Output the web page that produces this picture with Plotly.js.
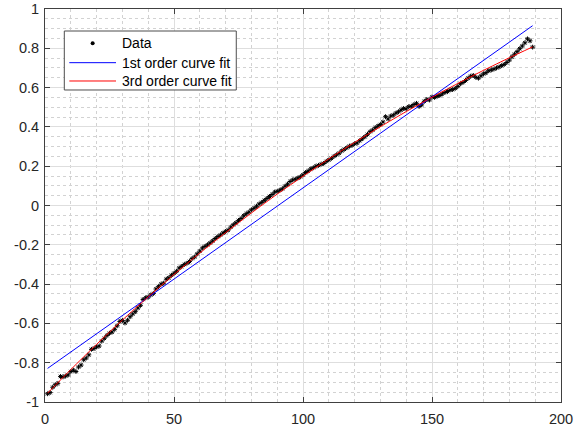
<!DOCTYPE html>
<html>
<head>
<meta charset="utf-8">
<script src="https://cdn.plot.ly/plotly-3.0.1.min.js"></script>
<style>html,body{margin:0;padding:0;background:#fff;}#chart{width:586px;height:429px;}</style>
</head>
<body>
<div id="chart"></div>
<script>
// Measured data (sample index 1..189)
const dataY = [
-0.958,-0.952,-0.925,-0.912,-0.905,-0.870,-0.872,-0.868,-0.862,-0.845,
-0.838,-0.845,-0.822,-0.812,-0.785,-0.776,-0.760,-0.732,-0.728,-0.720,
-0.715,-0.690,-0.676,-0.662,-0.650,-0.644,-0.630,-0.612,-0.590,-0.585,
-0.598,-0.584,-0.566,-0.552,-0.540,-0.522,-0.508,-0.478,-0.470,-0.466,
-0.455,-0.448,-0.425,-0.413,-0.400,-0.395,-0.375,-0.368,-0.355,-0.345,
-0.335,-0.318,-0.310,-0.300,-0.294,-0.285,-0.270,-0.262,-0.246,-0.232,
-0.216,-0.208,-0.200,-0.190,-0.180,-0.168,-0.158,-0.150,-0.140,-0.132,
-0.125,-0.110,-0.098,-0.088,-0.076,-0.066,-0.052,-0.042,-0.034,-0.022,
-0.014,-0.004,0.008,0.016,0.026,0.036,0.046,0.056,0.068,0.072,
0.078,0.085,0.098,0.108,0.122,0.130,0.134,0.140,0.146,0.156,
0.168,0.176,0.186,0.192,0.200,0.204,0.210,0.214,0.224,0.232,
0.240,0.250,0.258,0.266,0.278,0.286,0.294,0.302,0.306,0.314,
0.318,0.330,0.340,0.350,0.362,0.376,0.384,0.396,0.404,0.412,
0.425,0.452,0.440,0.455,0.460,0.470,0.477,0.486,0.494,0.492,
0.503,0.505,0.514,0.520,0.504,0.512,0.530,0.540,0.537,0.552,
0.550,0.556,0.560,0.568,0.575,0.580,0.588,0.590,0.596,0.606,
0.620,0.626,0.636,0.648,0.658,0.662,0.652,0.648,0.660,0.670,
0.676,0.686,0.690,0.694,0.700,0.705,0.712,0.718,0.728,0.740,
0.757,0.770,0.783,0.798,0.812,0.828,0.848,0.838,0.806
];
const dataX = dataY.map((_, i) => i + 1);

// 1st order fit (end points)
const linX = [1, 189];
const linY = [-0.829, 0.915];

// 3rd order fit
const cubX = [1, 10, 20, 30, 40, 50, 60, 70, 80, 90, 100, 110, 120, 130, 140, 150, 160, 170, 180, 189];
const cubY = [-0.955, -0.835, -0.7065, -0.583, -0.465, -0.351, -0.242, -0.138, -0.038, 0.058,
              0.149, 0.237, 0.321, 0.401, 0.478, 0.551, 0.621, 0.688, 0.752, 0.807];

const xTicks = [0, 50, 100, 150, 200];
const xTickText = ['0', '50', '100', '150', '200'];
const yTicks = [-1, -0.8, -0.6, -0.4, -0.2, 0, 0.2, 0.4, 0.6, 0.8, 1];
const yTickText = ['-1', '-0.8', '-0.6', '-0.4', '-0.2', '0', '0.2', '0.4', '0.6', '0.8', '1'];

const seriesNames = ['Data', '1st order curve fit', '3rd order curve fit'];
const seriesColors = ['#000000', '#0000ff', '#ff0000'];

const traces = [
  {x: dataX, y: dataY, mode: 'markers', name: seriesNames[0], type: 'scatter',
   marker: {symbol: 'asterisk-open', size: 4, color: seriesColors[0], line: {color: seriesColors[0], width: 1}}},
  {x: linX, y: linY, mode: 'lines', name: seriesNames[1], type: 'scatter',
   line: {color: seriesColors[1], width: 1}},
  {x: cubX, y: cubY, mode: 'lines', name: seriesNames[2], type: 'scatter',
   line: {color: seriesColors[2], width: 1, shape: 'spline', smoothing: 0.6}}
];

const axisCommon = {
  showline: true, mirror: 'ticks', linecolor: '#404040', linewidth: 1,
  ticks: 'inside', ticklen: 5, tickcolor: '#404040', tickwidth: 1,
  showgrid: true, gridcolor: '#dedede', gridwidth: 1, zeroline: false,
  tickfont: {family: 'Liberation Sans, Arial, sans-serif', size: 14.5, color: '#262626'},
  tickmode: 'array'
};

// Legend box (MATLAB style), in paper fractions
const legBox = {x0: 0.0374, x1: 0.3707, y0: 0.7939, y1: 0.944};
const legRowY = [0.9127, 0.8634, 0.8168];
const legSampleX = [0.0471, 0.1376];
const legTextX = 0.1453;
const legFont = {family: 'Liberation Sans, Arial, sans-serif', size: 14, color: '#000'};

const shapes = [
  {type: 'rect', xref: 'paper', yref: 'paper', x0: legBox.x0, x1: legBox.x1, y0: legBox.y0, y1: legBox.y1,
   fillcolor: '#ffffff', line: {color: '#4d4d4d', width: 1}, layer: 'above'},
  {type: 'circle', xref: 'paper', yref: 'paper', xsizemode: 'pixel', ysizemode: 'pixel',
   xanchor: (legSampleX[0] + legSampleX[1]) / 2, yanchor: legRowY[0], x0: -2, x1: 2, y0: -2, y1: 2,
   fillcolor: seriesColors[0], line: {width: 0}, layer: 'above'},
  {type: 'line', xref: 'paper', yref: 'paper', x0: legSampleX[0], x1: legSampleX[1], y0: legRowY[1], y1: legRowY[1],
   line: {color: seriesColors[1], width: 1}, layer: 'above'},
  {type: 'line', xref: 'paper', yref: 'paper', x0: legSampleX[0], x1: legSampleX[1], y0: legRowY[2], y1: legRowY[2],
   line: {color: seriesColors[2], width: 1}, layer: 'above'}
];

const annotations = seriesNames.map((name, i) => ({
  text: name, xref: 'paper', yref: 'paper', x: legTextX, y: legRowY[i],
  xanchor: 'left', yanchor: 'middle', showarrow: false, font: legFont
}));

const layout = {
  width: 586, height: 429,
  margin: {l: 45, r: 25, t: 9, b: 27, pad: 0},
  paper_bgcolor: '#ffffff', plot_bgcolor: '#ffffff',
  showlegend: false,
  xaxis: Object.assign({}, axisCommon, {
    range: [0, 200], tickvals: xTicks, ticktext: xTickText, ticklabelstandoff: 4,
    minor: {dtick: 10, showgrid: true, griddash: 'dot', gridcolor: '#d2d2d2', gridwidth: 1, ticks: ''}
  }),
  yaxis: Object.assign({}, axisCommon, {
    range: [-1, 1], tickvals: yTicks, ticktext: yTickText, ticklabelstandoff: 2,
    minor: {dtick: 0.05, showgrid: true, griddash: 'dot', gridcolor: '#d2d2d2', gridwidth: 1, ticks: ''}
  }),
  shapes: shapes,
  annotations: annotations
};

Plotly.newPlot('chart', traces, layout, {displayModeBar: false, staticPlot: true});
</script>
</body>
</html>
